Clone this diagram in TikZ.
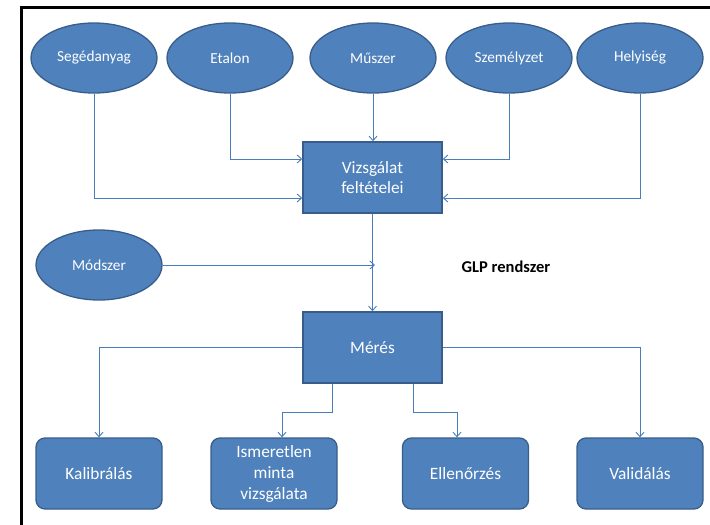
\documentclass[tikz,border=0pt]{standalone}
\usepackage{fontspec}
\setmainfont{Carlito}
\usetikzlibrary{shapes.geometric,arrows.meta,calc}
\definecolor{boxfill}{HTML}{4F81BD}
\definecolor{boxline}{HTML}{385D8A}
\definecolor{connc}{HTML}{4A7EBB}
\tikzset{
  ell/.style={ellipse, fill=boxfill, draw=boxline, line width=1.3pt, minimum width=126pt, minimum height=70pt, inner sep=0pt, text=white, font=\fontsize{15.3}{18}\selectfont},
  sqbox/.style={rectangle, fill=boxfill, draw=boxline, line width=1.5pt, minimum width=139pt, minimum height=71pt, inner sep=0pt, text=white, align=center, font=\fontsize{17.3}{20.5}\selectfont},
  rbox/.style={rectangle, rounded corners=9pt, fill=boxfill, draw=boxline, line width=1.3pt, minimum width=126pt, minimum height=71pt, inner sep=0pt, text=white, align=center, font=\fontsize{17.3}{21}\selectfont},
  conn/.style={draw=connc, line width=0.9pt, -{Straight Barb[length=4.5pt,width=8pt]}},
  plain/.style={draw=connc, line width=0.9pt},
}
\begin{document}
\begin{tikzpicture}[x=1pt,y=1pt]
\useasboundingbox (0,0) rectangle (710,-525);
\draw[line width=3pt] (21,-525) -- (21,-7.5) -- (711,-7.5);

\node[ell] (seged) at (94,-58) {Segédanyag};
\node[ell] (etalon) at (230,-58) {Etalon};
\node[ell] (muszer) at (373,-58) {Műszer};
\node[ell] (szem) at (509,-58) {Személyzet};
\node[ell] (hely) at (640,-58) {Helyiség};
\node[ell] (modszer) at (99,-265) {Módszer};

\node[sqbox] (vizsg) at (372.5,-177.5) {Vizsgálat\\feltételei};
\node[sqbox] (meres) at (372.5,-347.5) {Mérés};

\node[rbox] (kalib) at (99,-473.5) {Kalibrálás};
\node[rbox] (ismer) at (274,-473.5) {Ismeretlen\\minta\\vizsgálata};
\node[rbox] (ellen) at (465.5,-473.5) {Ellenőrzés};
\node[rbox] (valid) at (640,-473.5) {Validálás};

\node[font=\bfseries\fontsize{16.5}{20}\selectfont] (glp) at (506,-267) {GLP rendszer};

\draw[conn] (seged.south) |- ([yshift=-20.5pt]vizsg.west);
\draw[conn] (etalon.south) |- ([yshift=18.5pt]vizsg.west);
\draw[conn] (muszer.south) -- (muszer.south |- vizsg.north);
\draw[conn] (szem.south) |- ([yshift=18.5pt]vizsg.east);
\draw[conn] (hely.south) |- ([yshift=-20.5pt]vizsg.east);
\draw[conn] (vizsg.south) -- (meres.north);
\draw[conn] (modszer.east) -- ([xshift=2.5pt]modszer.east -| vizsg.south);

\draw[conn] (meres.west) -| (kalib.north);
\draw[conn] (meres.east) -| (valid.north);
\draw[conn] ([xshift=-40.5pt]meres.south) -- ++(0,-29) -| ([xshift=8pt]ismer.north);
\draw[conn] ([xshift=40.5pt]meres.south) -- ++(0,-29) -| ([xshift=-8.5pt]ellen.north);
\end{tikzpicture}
\end{document}
